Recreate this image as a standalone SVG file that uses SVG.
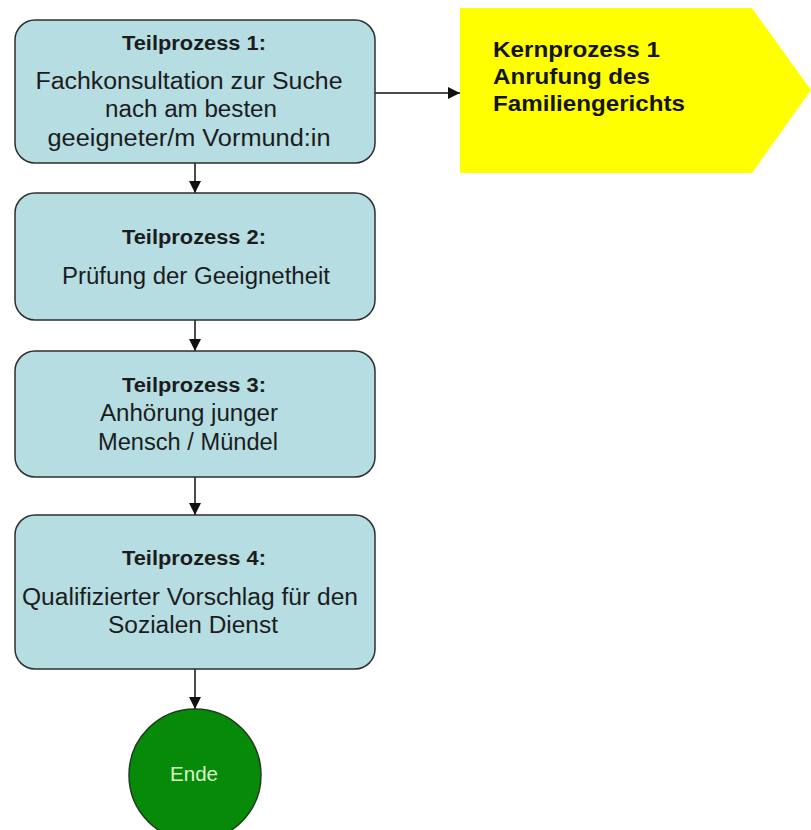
<svg xmlns="http://www.w3.org/2000/svg" width="811" height="830" viewBox="0 0 811 830">
<style>
.box{fill:#b5dde2;stroke:#2e2e2e;stroke-width:1.5}
.t{font-family:"Liberation Sans",Arial,sans-serif;fill:#1c1c1c;text-anchor:middle}
.h{font-size:20px;font-weight:bold}
.b{font-size:23px}
.k{font-family:"Liberation Sans",Arial,sans-serif;font-size:22px;font-weight:bold;fill:#141414}
.c{stroke:#111;stroke-width:1.5;fill:none;marker-end:url(#ah)}
</style>
<defs>
<marker id="ah" markerUnits="userSpaceOnUse" markerWidth="14" markerHeight="14" refX="12" refY="6" orient="auto">
<path d="M0,0 L12,6 L0,12 Z" fill="#111"/>
</marker>
</defs>
<rect width="811" height="830" fill="#ffffff"/>
<g id="connectors">
<line class="c" x1="375" y1="93" x2="460" y2="93"/>
<line class="c" x1="195" y1="163" x2="195" y2="193"/>
<line class="c" x1="195" y1="320" x2="195" y2="351"/>
<line class="c" x1="195" y1="477" x2="195" y2="515"/>
<line class="c" x1="195" y1="669" x2="195" y2="709"/>
</g>
<g id="tp1">
<rect class="box" x="15" y="20" width="360" height="143" rx="20"/>
<text class="t h" x="194" y="50" textLength="144" lengthAdjust="spacingAndGlyphs">Teilprozess 1:</text>
<text class="t b" x="189" y="89" textLength="307" lengthAdjust="spacingAndGlyphs">Fachkonsultation zur Suche</text>
<text class="t b" x="191" y="117" textLength="172" lengthAdjust="spacingAndGlyphs">nach am besten</text>
<text class="t b" x="189" y="146" textLength="283" lengthAdjust="spacingAndGlyphs">geeigneter/m Vormund:in</text>
</g>
<g id="tp2">
<rect class="box" x="15" y="193" width="360" height="127" rx="20"/>
<text class="t h" x="194" y="244" textLength="144" lengthAdjust="spacingAndGlyphs">Teilprozess 2:</text>
<text class="t b" x="196" y="284" textLength="268" lengthAdjust="spacingAndGlyphs">Prüfung der Geeignetheit</text>
</g>
<g id="tp3">
<rect class="box" x="15" y="351" width="360" height="126" rx="20"/>
<text class="t h" x="194" y="392" textLength="144" lengthAdjust="spacingAndGlyphs">Teilprozess 3:</text>
<text class="t b" x="189" y="421" textLength="178" lengthAdjust="spacingAndGlyphs">Anhörung junger</text>
<text class="t b" x="188" y="450" textLength="180" lengthAdjust="spacingAndGlyphs">Mensch / Mündel</text>
</g>
<g id="tp4">
<rect class="box" x="15" y="515" width="360" height="154" rx="20"/>
<text class="t h" x="194" y="565" textLength="144" lengthAdjust="spacingAndGlyphs">Teilprozess 4:</text>
<text class="t b" x="190" y="605" textLength="336" lengthAdjust="spacingAndGlyphs">Qualifizierter Vorschlag für den</text>
<text class="t b" x="193" y="633" textLength="170" lengthAdjust="spacingAndGlyphs">Sozialen Dienst</text>
</g>
<g id="kernprozess">
<polygon points="460,8 752,8 811,90 752,173 460,173" fill="#ffff00"/>
<text class="k" x="493" y="57" textLength="167" lengthAdjust="spacingAndGlyphs">Kernprozess 1</text>
<text class="k" x="493" y="84" textLength="157" lengthAdjust="spacingAndGlyphs">Anrufung des</text>
<text class="k" x="493" y="111" textLength="192" lengthAdjust="spacingAndGlyphs">Familiengerichts</text>
</g>
<g id="ende">
<circle cx="195" cy="775" r="66" fill="#078a07" stroke="#1d3d1d" stroke-width="1.5"/>
<text class="t" x="194" y="781" style="font-size:20px;fill:#d8f5cc" textLength="48" lengthAdjust="spacingAndGlyphs">Ende</text>
</g>
</svg>
